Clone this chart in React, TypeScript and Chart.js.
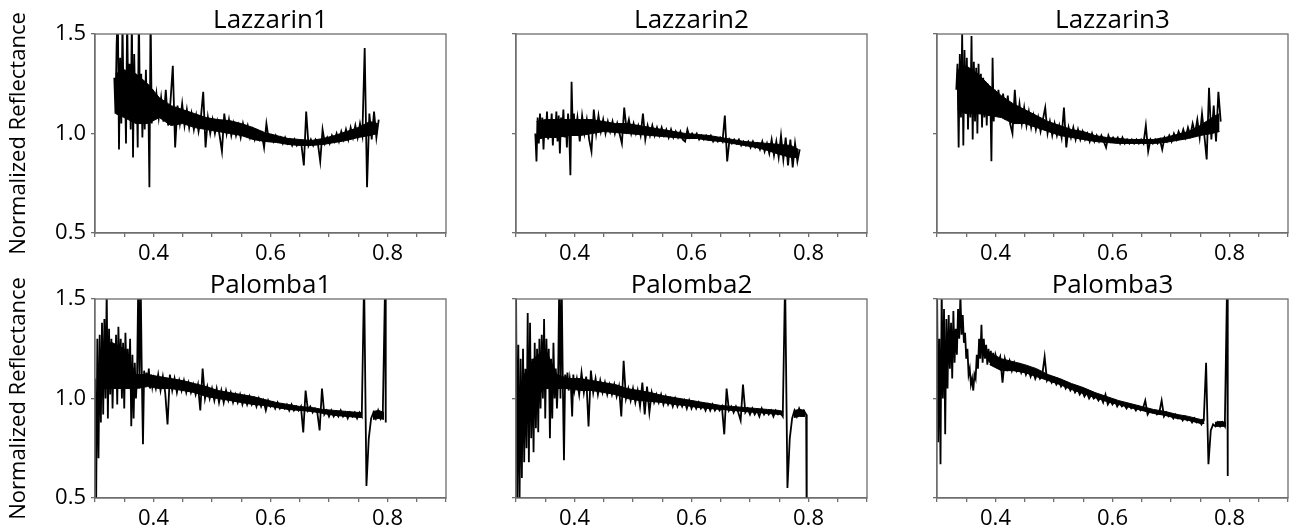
import React, { useEffect, useRef } from 'react';
import { Chart, registerables } from 'chart.js';

Chart.register(...registerables);

const FONT = "'Open Sans', 'Noto Sans', sans-serif";
const FRAME_COLOR = '#6e6e6e';

// Wavelength grids (micrometres)
const LAZ_WL = [
  0.333, 0.335, 0.337, 0.339, 0.341, 0.343, 0.345, 0.347, 0.349, 0.351,
  0.353, 0.355, 0.357, 0.359, 0.361, 0.363, 0.365, 0.367, 0.369, 0.371,
  0.373, 0.375, 0.377, 0.379, 0.381, 0.383, 0.385, 0.387, 0.389, 0.391,
  0.393, 0.395, 0.397, 0.399, 0.401, 0.405, 0.409, 0.413, 0.417, 0.421,
  0.425, 0.429, 0.433, 0.437, 0.441, 0.445, 0.449, 0.453, 0.457, 0.461,
  0.465, 0.469, 0.473, 0.477, 0.481, 0.485, 0.489, 0.493, 0.497, 0.501,
  0.505, 0.509, 0.513, 0.517, 0.521, 0.525, 0.529, 0.533, 0.537, 0.541,
  0.545, 0.549, 0.553, 0.557, 0.561, 0.565, 0.569, 0.573, 0.577, 0.581,
  0.585, 0.589, 0.593, 0.597, 0.601, 0.605, 0.609, 0.613, 0.617, 0.621,
  0.625, 0.629, 0.633, 0.637, 0.641, 0.645, 0.649, 0.653, 0.657, 0.661,
  0.665, 0.669, 0.673, 0.677, 0.681, 0.685, 0.689, 0.693, 0.697, 0.701,
  0.705, 0.709, 0.713, 0.717, 0.721, 0.725, 0.729, 0.733, 0.737, 0.741,
  0.745, 0.749, 0.753, 0.757, 0.761, 0.765, 0.769, 0.773, 0.777, 0.781,
  0.785,
];

const PAL_WL = [
  0.300, 0.302, 0.304, 0.306, 0.308, 0.310, 0.312, 0.314, 0.316, 0.318,
  0.320, 0.322, 0.324, 0.326, 0.328, 0.330, 0.332, 0.334, 0.336, 0.338,
  0.340, 0.342, 0.344, 0.346, 0.348, 0.350, 0.352, 0.354, 0.356, 0.358,
  0.360, 0.362, 0.364, 0.366, 0.368, 0.370, 0.372, 0.374, 0.376, 0.378,
  0.380, 0.382, 0.384, 0.386, 0.388, 0.390, 0.392, 0.394, 0.396, 0.398,
  0.400, 0.404, 0.408, 0.412, 0.416, 0.420, 0.424, 0.428, 0.432, 0.436,
  0.440, 0.444, 0.448, 0.452, 0.456, 0.460, 0.464, 0.468, 0.472, 0.476,
  0.480, 0.484, 0.488, 0.492, 0.496, 0.500, 0.504, 0.508, 0.512, 0.516,
  0.520, 0.524, 0.528, 0.532, 0.536, 0.540, 0.544, 0.548, 0.552, 0.556,
  0.560, 0.564, 0.568, 0.572, 0.576, 0.580, 0.584, 0.588, 0.592, 0.596,
  0.600, 0.604, 0.608, 0.612, 0.616, 0.620, 0.624, 0.628, 0.632, 0.636,
  0.640, 0.644, 0.648, 0.652, 0.656, 0.660, 0.664, 0.668, 0.672, 0.676,
  0.680, 0.684, 0.688, 0.692, 0.696, 0.700, 0.704, 0.708, 0.712, 0.716,
  0.720, 0.724, 0.728, 0.732, 0.736, 0.740, 0.744, 0.748, 0.752, 0.756,
  0.760, 0.764, 0.768, 0.772, 0.776, 0.780, 0.784, 0.788, 0.792, 0.796,
  0.797,
];

// Normalized reflectance traces
const LAZZARIN1 = [
  1.28, 1.10, 1.45, 1.62, 0.92, 1.38, 1.05, 1.55, 1.12, 1.30,
  0.95, 1.60, 1.08, 1.35, 1.02, 1.58, 0.88, 1.40, 1.10, 1.28,
  0.93, 1.62, 1.05, 1.30, 0.98, 1.25, 1.02, 1.32, 1.08, 1.20,
  0.73, 1.62, 1.05, 1.22, 1.10, 1.20, 1.08, 1.18, 1.06, 1.22,
  1.04, 1.16, 1.34, 0.93, 1.14, 1.05, 1.15, 1.04, 1.12, 1.03,
  1.10, 1.02, 1.09, 1.01, 1.08, 1.21, 0.93, 1.08, 1.00, 1.07,
  1.00, 1.06, 0.99, 0.91, 1.10, 1.00, 1.07, 0.99, 1.05, 0.99,
  1.04, 0.98, 1.05, 1.00, 1.04, 0.98, 1.02, 0.97, 1.01, 0.97,
  1.00, 0.93, 1.05, 0.97, 0.99, 0.96, 0.99, 0.96, 0.98, 0.95,
  0.98, 0.95, 0.97, 0.94, 0.97, 0.94, 0.96, 0.94, 0.84, 1.11,
  0.94, 0.97, 0.94, 0.97, 0.95, 0.86, 1.02, 0.95, 0.98, 0.95,
  0.99, 0.96, 1.00, 0.96, 1.01, 0.97, 1.02, 0.97, 1.03, 0.98,
  1.04, 0.98, 1.05, 0.99, 1.43, 0.73, 1.10, 0.97, 1.11, 0.98,
  1.07,
];

const LAZZARIN2 = [
  1.00, 0.86, 1.08, 0.95, 1.10, 0.98, 1.08, 0.92, 1.06, 1.00,
  1.11, 0.97, 1.07, 1.00, 1.10, 0.94, 1.06, 0.99, 1.11, 0.96,
  1.09, 0.90, 1.08, 1.01, 1.12, 0.98, 1.07, 0.93, 1.10, 1.00,
  0.79, 1.26, 1.02, 1.10, 0.99, 1.08, 0.96, 1.09, 1.00, 1.07,
  0.97, 0.91, 1.12, 1.00, 1.09, 1.01, 1.07, 1.00, 1.06, 1.01,
  1.06, 1.00, 1.05, 1.00, 0.95, 1.13, 1.02, 1.07, 1.00, 1.05,
  1.00, 1.04, 0.99, 1.10, 0.97, 1.04, 0.99, 1.04, 0.99, 1.03,
  0.99, 1.03, 0.99, 1.02, 0.98, 1.02, 0.98, 1.01, 0.98, 1.01,
  0.97, 0.96, 1.02, 0.98, 1.00, 0.98, 1.00, 0.97, 0.99, 0.97,
  0.99, 0.97, 0.99, 0.96, 0.98, 0.96, 0.98, 0.96, 1.09, 0.86,
  0.97, 0.95, 0.97, 0.95, 0.97, 0.94, 0.96, 0.94, 0.96, 0.93,
  0.96, 0.93, 0.95, 0.92, 0.96, 0.91, 0.95, 0.90, 0.97, 0.89,
  0.96, 0.88, 0.99, 0.87, 0.98, 0.84, 0.97, 0.83, 0.95, 0.86,
  0.92,
];

const LAZZARIN3 = [
  1.22, 1.35, 0.93, 1.40, 1.08, 1.50, 0.94, 1.42, 1.10, 1.38,
  1.02, 1.30, 1.08, 1.49, 0.97, 1.36, 1.06, 1.33, 1.00, 1.35,
  1.10, 1.30, 1.03, 1.28, 1.08, 1.26, 1.04, 1.25, 1.09, 1.22,
  0.86, 1.38, 1.06, 1.22, 1.10, 1.22, 1.09, 1.20, 1.07, 1.19,
  1.05, 1.00, 1.22, 1.05, 1.15, 1.05, 1.13, 1.04, 1.11, 1.03,
  1.09, 1.02, 1.08, 1.01, 1.07, 1.13, 1.00, 1.06, 0.99, 1.05,
  0.99, 1.04, 0.98, 1.13, 0.93, 1.03, 0.98, 1.03, 0.97, 1.02,
  0.97, 1.01, 0.97, 1.00, 0.96, 1.00, 0.96, 0.99, 0.96, 0.99,
  0.96, 0.93, 0.99, 0.96, 0.98, 0.96, 0.98, 0.95, 0.98, 0.95,
  0.97, 0.95, 0.97, 0.95, 0.97, 0.95, 0.97, 0.95, 1.04, 0.91,
  0.97, 0.95, 0.97, 0.95, 0.97, 0.92, 0.98, 0.96, 0.99, 0.96,
  1.00, 0.97, 1.01, 0.98, 1.02, 0.98, 1.03, 0.99, 1.05, 1.00,
  1.07, 0.98, 1.10, 0.99, 0.87, 1.23, 0.97, 1.14, 0.96, 1.21,
  1.06,
];

const PALOMBA1 = [
  1.10, 0.50, 1.30, 0.70, 1.32, 0.88, 1.38, 0.92, 1.40, 1.00,
  1.55, 0.90, 1.35, 1.02, 1.30, 0.95, 1.25, 1.05, 1.32, 0.97,
  1.36, 1.08, 1.30, 1.00, 1.28, 0.95, 1.33, 1.10, 1.25, 1.05,
  1.30, 0.86, 1.22, 0.90, 1.18, 1.00, 1.12, 1.60, 1.05, 1.60,
  1.12, 0.77, 1.14, 1.06, 1.13, 1.07, 1.15, 1.05, 1.12, 1.06,
  1.10, 1.05, 1.12, 1.04, 1.11, 1.03, 0.87, 1.12, 1.04, 1.10,
  1.03, 1.09, 1.04, 1.09, 1.03, 1.08, 1.03, 1.07, 1.02, 1.07,
  0.94, 1.15, 1.00, 1.06, 1.00, 1.05, 0.99, 1.05, 0.98, 1.04,
  0.98, 1.04, 0.99, 1.03, 0.98, 1.02, 0.98, 1.02, 0.97, 1.01,
  0.97, 1.01, 0.97, 1.00, 0.96, 1.00, 0.96, 0.99, 0.94, 0.99,
  0.96, 0.98, 0.95, 0.98, 0.95, 0.97, 0.95, 0.97, 0.94, 0.97,
  0.94, 0.96, 0.94, 0.96, 0.83, 1.04, 0.94, 0.96, 0.93, 0.95,
  0.93, 0.84, 1.05, 0.92, 0.94, 0.91, 0.94, 0.91, 0.93, 0.91,
  0.94, 0.91, 0.93, 0.90, 0.93, 0.91, 0.93, 0.90, 0.93, 0.91,
  1.60, 0.56, 0.80, 0.90, 0.93, 0.90, 0.94, 0.90, 0.93, 1.60,
  0.88,
];

const PALOMBA2 = [
  1.60, 0.45, 1.27, 0.45, 1.20, 0.60, 1.25, 0.68, 1.15, 0.75,
  1.43, 0.68, 1.38, 0.80, 1.20, 0.73, 1.28, 0.85, 1.25, 0.83,
  1.30, 0.95, 1.32, 1.00, 1.40, 0.90, 1.30, 1.05, 1.25, 0.80,
  1.20, 0.90, 1.28, 1.00, 1.15, 0.95, 1.10, 1.60, 1.00, 1.60,
  1.08, 0.69, 1.12, 1.05, 1.13, 1.04, 1.10, 1.05, 0.91, 1.12,
  1.04, 1.10, 1.02, 1.13, 1.03, 1.11, 0.86, 1.14, 1.03, 1.10,
  1.02, 1.09, 1.03, 1.08, 1.02, 1.07, 1.02, 1.07, 1.01, 1.06,
  0.91, 1.19, 1.00, 1.05, 0.99, 1.05, 0.98, 1.04, 0.96, 1.08,
  0.92, 1.06, 0.93, 1.03, 0.98, 1.02, 0.98, 1.02, 0.97, 1.01,
  0.97, 1.00, 0.96, 1.00, 0.96, 0.99, 0.96, 0.99, 0.95, 0.99,
  0.95, 0.98, 0.95, 0.98, 0.95, 0.97, 0.94, 0.97, 0.94, 0.97,
  0.94, 0.96, 0.94, 0.96, 0.82, 1.05, 0.94, 0.96, 0.93, 0.96,
  0.93, 0.89, 1.07, 0.93, 0.95, 0.92, 0.95, 0.92, 0.94, 0.91,
  0.95, 0.92, 0.94, 0.92, 0.94, 0.91, 0.94, 0.92, 0.93, 0.91,
  1.60, 0.55, 0.80, 0.90, 0.94, 0.91, 0.95, 0.92, 0.94, 0.92,
  0.30,
];

const PALOMBA3 = [
  1.60, 0.78, 1.30, 0.67, 1.55, 1.00, 1.45, 0.82, 1.40, 1.05,
  1.42, 1.15, 1.38, 1.10, 1.44, 1.18, 1.35, 1.22, 1.45, 1.30,
  1.52, 1.32, 1.42, 1.28, 1.33, 1.20, 1.25, 1.12, 1.15, 1.07,
  1.10, 1.04, 1.12, 1.10, 1.22, 1.15, 1.30, 1.20, 1.37, 1.18,
  1.30, 1.20, 1.27, 1.17, 1.25, 1.18, 1.24, 1.17, 1.23, 1.16,
  1.22, 1.18, 1.21, 1.08, 1.20, 1.15, 1.19, 1.14, 1.18, 1.14,
  1.17, 1.13, 1.16, 1.12, 1.15, 1.11, 1.14, 1.10, 1.13, 1.10,
  1.12, 1.21, 1.09, 1.11, 1.08, 1.10, 1.07, 1.09, 1.06, 1.08,
  1.05, 1.07, 1.04, 1.06, 1.03, 1.05, 1.02, 1.04, 1.01, 1.03,
  1.00, 1.02, 1.00, 1.01, 0.99, 1.01, 0.98, 1.02, 0.97, 0.99,
  0.97, 0.99, 0.96, 0.98, 0.96, 0.97, 0.95, 0.97, 0.95, 0.96,
  0.94, 0.96, 0.94, 0.95, 0.99, 0.92, 0.94, 0.93, 0.94, 0.92,
  0.93, 0.99, 0.91, 0.93, 0.91, 0.92, 0.90, 0.92, 0.90, 0.91,
  0.89, 0.91, 0.89, 0.90, 0.88, 0.90, 0.88, 0.89, 0.87, 0.89,
  1.18, 0.67, 0.84, 0.87, 0.86, 0.88, 0.86, 0.88, 0.86, 1.60,
  0.61,
];

// Solid noise band (upper / lower envelope of the dense black trace)
const LAZ_BAND_WL = [
  0.335, 0.35, 0.37, 0.39, 0.41, 0.43, 0.45, 0.47, 0.49, 0.51, 0.53, 0.55,
  0.57, 0.59, 0.61, 0.63, 0.65, 0.67, 0.69, 0.71, 0.73, 0.75, 0.77, 0.783,
];
const LAZZARIN1_HI = [
  1.30, 1.32, 1.30, 1.25, 1.18, 1.14, 1.12, 1.10, 1.08, 1.07, 1.065, 1.05,
  1.03, 1.005, 0.99, 0.975, 0.97, 0.965, 0.975, 0.99, 1.01, 1.03, 1.06, 1.05,
];
const LAZZARIN1_LO = [
  1.10, 1.08, 1.05, 1.05, 1.08, 1.04, 1.05, 1.03, 1.02, 1.01, 1.00, 0.99,
  0.97, 0.96, 0.955, 0.945, 0.94, 0.94, 0.945, 0.955, 0.965, 0.98, 0.99, 1.00,
];
const LAZZARIN2_HI = [
  1.06, 1.07, 1.07, 1.07, 1.07, 1.07, 1.06, 1.05, 1.05, 1.04, 1.03, 1.02,
  1.01, 1.00, 0.995, 0.99, 0.98, 0.97, 0.96, 0.955, 0.95, 0.945, 0.94, 0.92,
];
const LAZZARIN2_LO = [
  0.97, 0.98, 0.98, 0.99, 0.99, 1.00, 1.01, 1.005, 1.00, 0.995, 0.99, 0.985,
  0.98, 0.975, 0.975, 0.965, 0.96, 0.95, 0.94, 0.93, 0.915, 0.895, 0.88, 0.88,
];
const LAZZARIN3_HI = [
  1.32, 1.34, 1.30, 1.24, 1.19, 1.15, 1.12, 1.09, 1.06, 1.04, 1.02, 1.01,
  0.99, 0.98, 0.975, 0.97, 0.97, 0.97, 0.98, 0.995, 1.01, 1.04, 1.08, 1.10,
];
const LAZZARIN3_LO = [
  1.12, 1.10, 1.10, 1.09, 1.08, 1.05, 1.05, 1.03, 1.01, 0.99, 0.98, 0.97,
  0.96, 0.955, 0.95, 0.95, 0.95, 0.95, 0.955, 0.965, 0.975, 0.99, 1.00, 1.01,
];

const PAL_BAND_WL = [
  0.31, 0.33, 0.35, 0.37, 0.39, 0.41, 0.43, 0.45, 0.47, 0.49, 0.51, 0.53,
  0.55, 0.57, 0.59, 0.61, 0.63, 0.65, 0.67, 0.69, 0.71, 0.73, 0.75, 0.757,
  0.76, 0.775, 0.785, 0.794,
];
const PALOMBA1_HI = [
  1.28, 1.28, 1.25, 1.12, 1.12, 1.11, 1.10, 1.09, 1.075, 1.06, 1.04, 1.03,
  1.02, 1.01, 0.995, 0.98, 0.97, 0.96, 0.955, 0.945, 0.94, 0.935, 0.93, 0.93,
  null, 0.935, 0.94, 0.93,
];
const PALOMBA1_LO = [
  1.05, 1.05, 1.05, 1.05, 1.06, 1.05, 1.05, 1.04, 1.03, 1.01, 1.00, 0.99,
  0.98, 0.97, 0.965, 0.955, 0.945, 0.94, 0.935, 0.925, 0.915, 0.91, 0.905, 0.905,
  null, 0.895, 0.90, 0.895,
];
const PALOMBA2_HI = [
  1.10, 1.20, 1.25, 1.12, 1.10, 1.10, 1.09, 1.08, 1.07, 1.05, 1.04, 1.03,
  1.015, 1.005, 0.995, 0.985, 0.975, 0.965, 0.96, 0.955, 0.95, 0.945, 0.94, 0.935,
  null, 0.94, 0.945, 0.94,
];
const PALOMBA2_LO = [
  0.95, 1.00, 1.05, 1.05, 1.05, 1.04, 1.04, 1.03, 1.02, 1.00, 0.99, 0.985,
  0.98, 0.97, 0.965, 0.955, 0.95, 0.945, 0.94, 0.935, 0.93, 0.925, 0.92, 0.915,
  null, 0.905, 0.91, 0.91,
];
const PALOMBA3_HI = [
  null, 1.40, null, null, 1.23, 1.20, 1.185, 1.17, 1.15, 1.12, 1.10, 1.075,
  1.055, 1.03, 1.01, 0.99, 0.975, 0.96, 0.945, 0.935, 0.92, 0.91, 0.895, 0.895,
  null, 0.88, 0.885, 0.88,
];
const PALOMBA3_LO = [
  null, 1.25, null, null, 1.17, 1.14, 1.14, 1.13, 1.11, 1.09, 1.07, 1.045,
  1.025, 1.005, 0.985, 0.97, 0.955, 0.94, 0.925, 0.915, 0.90, 0.89, 0.875, 0.875,
  null, 0.86, 0.86, 0.86,
];

const X_TICKS = [0.3, 0.35, 0.4, 0.45, 0.5, 0.55, 0.6, 0.65, 0.7, 0.75, 0.8, 0.85, 0.9];
const X_TICK_LABELS = ['', '', '0.4', '', '', '', '0.6', '', '', '', '0.8', '', ''];
const Y_TICKS = [0.5, 1.0, 1.5];
const Y_TICK_LABELS = ['0.5', '1.0', '1.5'];
const Y_TITLE = 'Normalized Reflectance';

type Series = (number | null)[];
type PanelDef = {
  title: string; wl: number[]; values: number[];
  bandWl: number[]; hi: Series; lo: Series; col: number; row: number;
};

const PANELS: PanelDef[] = [
  { title: 'Lazzarin1', wl: LAZ_WL, values: LAZZARIN1, bandWl: LAZ_BAND_WL, hi: LAZZARIN1_HI, lo: LAZZARIN1_LO, col: 0, row: 0 },
  { title: 'Lazzarin2', wl: LAZ_WL, values: LAZZARIN2, bandWl: LAZ_BAND_WL, hi: LAZZARIN2_HI, lo: LAZZARIN2_LO, col: 1, row: 0 },
  { title: 'Lazzarin3', wl: LAZ_WL, values: LAZZARIN3, bandWl: LAZ_BAND_WL, hi: LAZZARIN3_HI, lo: LAZZARIN3_LO, col: 2, row: 0 },
  { title: 'Palomba1', wl: PAL_WL, values: PALOMBA1, bandWl: PAL_BAND_WL, hi: PALOMBA1_HI, lo: PALOMBA1_LO, col: 0, row: 1 },
  { title: 'Palomba2', wl: PAL_WL, values: PALOMBA2, bandWl: PAL_BAND_WL, hi: PALOMBA2_HI, lo: PALOMBA2_LO, col: 1, row: 1 },
  { title: 'Palomba3', wl: PAL_WL, values: PALOMBA3, bandWl: PAL_BAND_WL, hi: PALOMBA3_HI, lo: PALOMBA3_LO, col: 2, row: 1 },
];

const COL_LEFT = [0, 421, 842];
const ROW_TOP = [0, 265];
const CANVAS_W = 452;
const CANVAS_H = 269;

function SpectrumPanel({ p }: { p: PanelDef }) {
  const ref = useRef<HTMLCanvasElement | null>(null);
  const showY = p.col === 0;

  useEffect(() => {
    if (!ref.current) return;
    const framePlugin = {
      id: 'frameAndTitle',
      afterDraw(chart: any) {
        const { ctx, chartArea: a } = chart;
        ctx.save();
        ctx.strokeStyle = FRAME_COLOR;
        ctx.lineWidth = 1.3;
        ctx.strokeRect(a.left, a.top, a.right - a.left, a.bottom - a.top);
        ctx.fillStyle = '#000';
        ctx.font = `26px ${FONT}`;
        ctx.textAlign = 'center';
        ctx.textBaseline = 'alphabetic';
        ctx.fillText(p.title, (a.left + a.right) / 2, a.top - 6);
        ctx.restore();
      },
    };

    const chart = new Chart(ref.current, {
      type: 'line',
      data: {
        datasets: [
          {
            data: p.wl.map((x, i) => ({ x, y: p.values[i] })),
            borderColor: '#000',
            borderWidth: 1.8,
            pointRadius: 0,
            tension: 0,
            fill: false,
          },
          {
            data: p.bandWl.map((x, i) => ({ x, y: p.lo[i] })),
            borderColor: '#000',
            borderWidth: 1,
            pointRadius: 0,
            tension: 0,
            fill: false,
          },
          {
            data: p.bandWl.map((x, i) => ({ x, y: p.hi[i] })),
            borderColor: '#000',
            borderWidth: 1,
            backgroundColor: '#000',
            pointRadius: 0,
            tension: 0,
            fill: '-1',
          },
        ],
      },
      options: {
        animation: false,
        responsive: false,
        devicePixelRatio: 1,
        layout: { padding: { top: 34, right: 6, left: 0, bottom: 0 } },
        plugins: {
          legend: { display: false },
          tooltip: { enabled: false },
          title: { display: false },
        },
        scales: {
          x: {
            type: 'linear',
            min: 0.3,
            max: 0.9,
            afterFit(scale: any) {
              scale.height = 36;
            },
            afterBuildTicks(scale: any) {
              scale.ticks = X_TICKS.map((v) => ({ value: v }));
            },
            ticks: {
              autoSkip: false,
              maxRotation: 0,
              minRotation: 0,
              padding: 4,
              color: '#000',
              font: { size: 22, family: FONT },
              callback: (_v: any, i: number) => X_TICK_LABELS[i],
            },
            grid: { drawOnChartArea: false, drawTicks: true, tickLength: 4, color: FRAME_COLOR, lineWidth: 1.3 },
            border: { display: true, color: FRAME_COLOR, width: 1.3 },
          },
          y: {
            type: 'linear',
            min: 0.5,
            max: 1.5,
            afterFit(scale: any) {
              scale.width = 95;
            },
            afterBuildTicks(scale: any) {
              scale.ticks = Y_TICKS.map((v) => ({ value: v }));
            },
            ticks: {
              autoSkip: false,
              padding: 5,
              color: '#000',
              font: { size: 22, family: FONT },
              callback: (_v: any, i: number) => (showY ? Y_TICK_LABELS[i] : ''),
            },
            title: {
              display: showY,
              text: Y_TITLE,
              color: '#000',
              font: { size: 22, family: FONT },
              padding: { top: 6, bottom: 0 },
            },
            grid: { drawOnChartArea: false, drawTicks: true, tickLength: 4, color: FRAME_COLOR, lineWidth: 1.3 },
            border: { display: true, color: FRAME_COLOR, width: 1.3 },
          },
        },
      },
      plugins: [framePlugin],
    } as any);

    return () => chart.destroy();
  }, [p, showY]);

  return (
    <canvas
      ref={ref}
      width={CANVAS_W}
      height={CANVAS_H}
      style={{ position: 'absolute', left: COL_LEFT[p.col], top: ROW_TOP[p.row], width: CANVAS_W, height: CANVAS_H }}
    />
  );
}

export default function App() {
  return (
    <div style={{ position: 'absolute', left: 0, top: 0, width: 1294, height: 529, background: '#fff', overflow: 'hidden' }}>
      {PANELS.map((p) => (
        <SpectrumPanel key={p.title} p={p} />
      ))}
    </div>
  );
}
